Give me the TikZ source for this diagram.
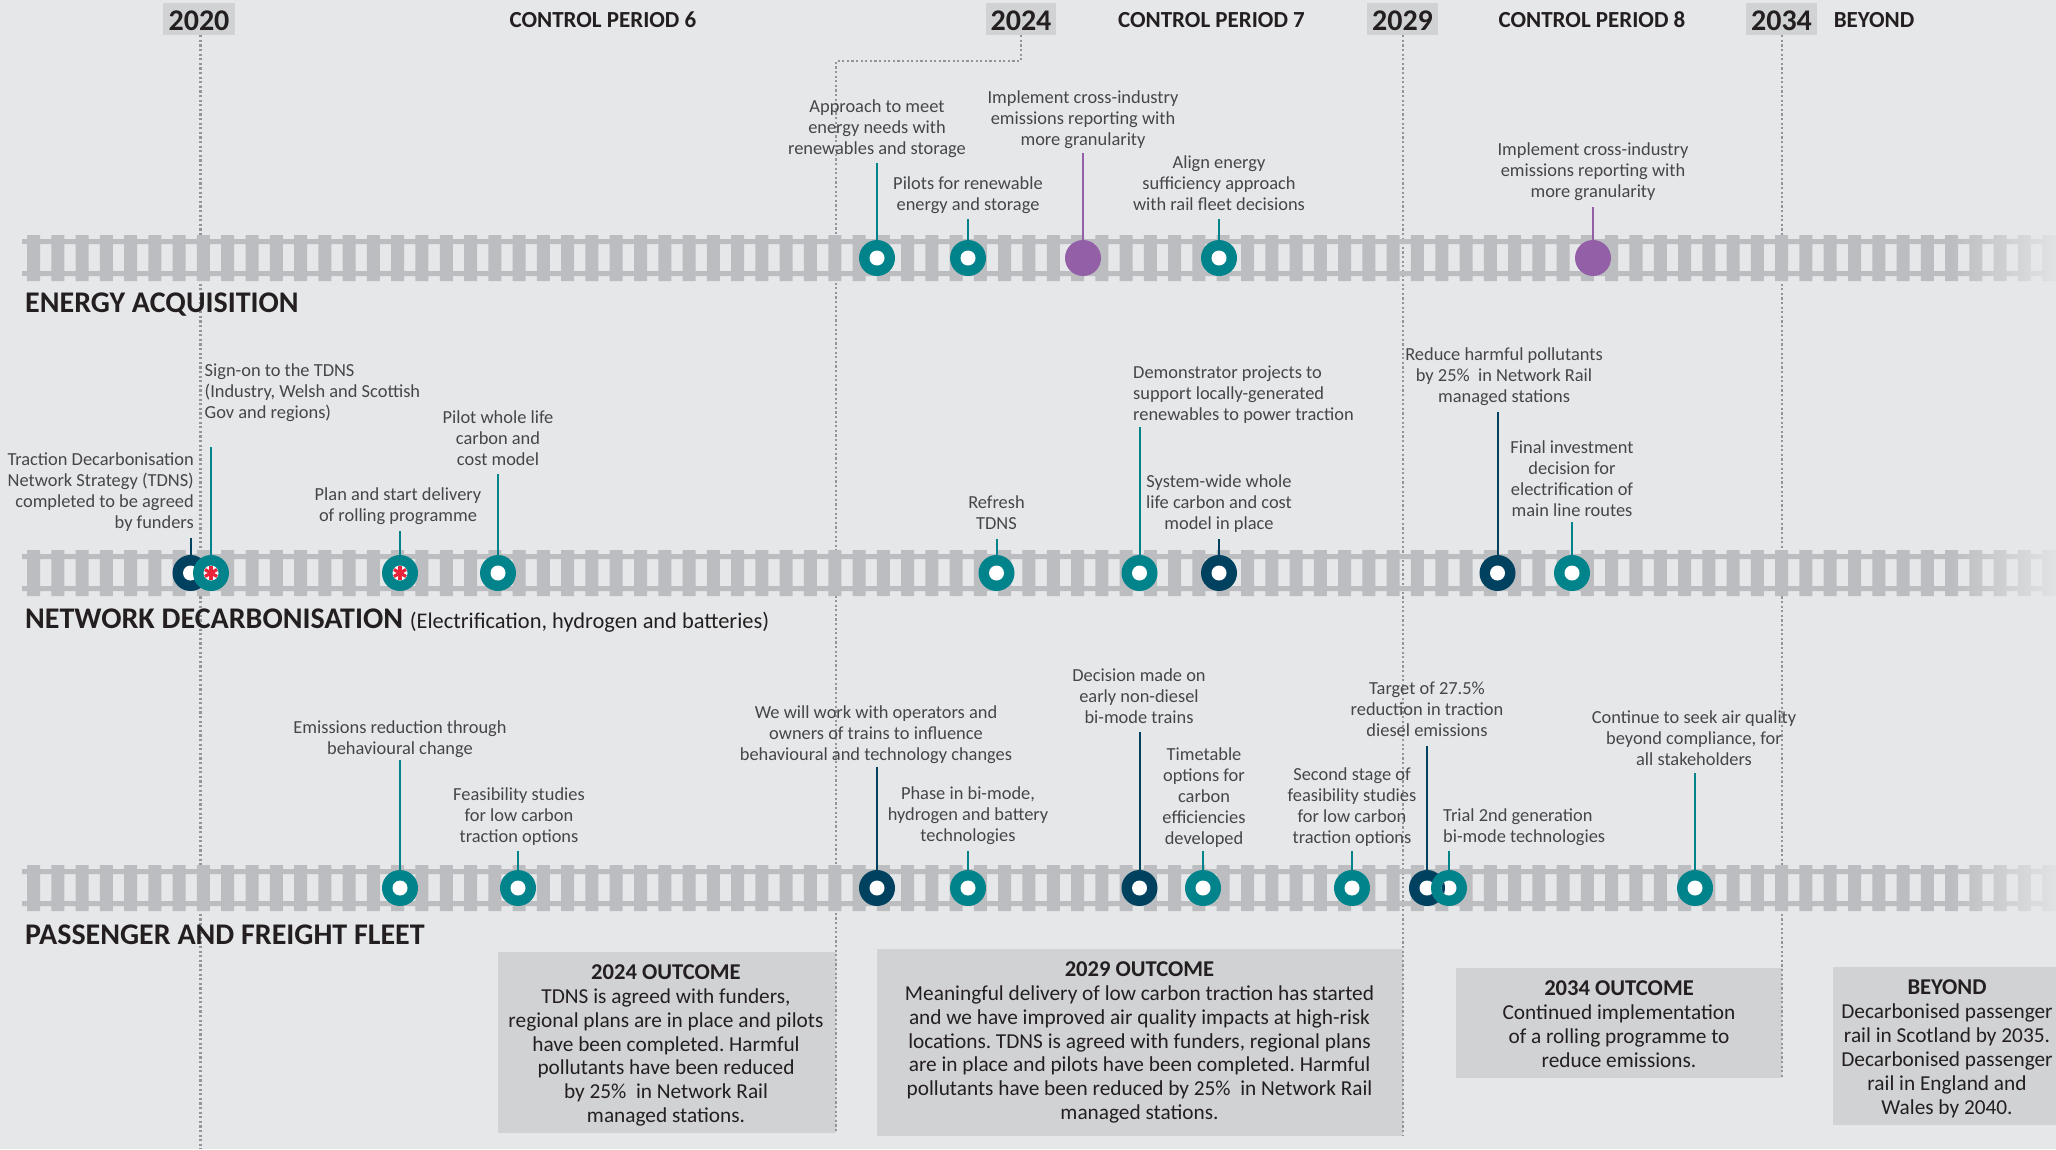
\documentclass[tikz,border=0pt]{standalone}
\usepackage{fontspec}
\setmainfont{Carlito}
\frenchspacing
\definecolor{bgc}{HTML}{E6E7E9}
\definecolor{boxc}{HTML}{D1D2D4}
\definecolor{trackc}{HTML}{BBBDC0}
\definecolor{tealc}{HTML}{00838A}
\definecolor{navyc}{HTML}{00415F}
\definecolor{purplec}{HTML}{9360A8}
\definecolor{redc}{HTML}{E8233A}
\definecolor{labelc}{HTML}{464648}
\definecolor{headc}{HTML}{231F20}
\definecolor{dotc}{HTML}{939598}
\definecolor{fadec}{HTML}{E1E2E3}
\tikzset{
  x=1pt,y=-1pt,
  marker/.style={circle,minimum size=36pt,inner sep=0pt,draw=none},
  hole/.style={circle,minimum size=15pt,inner sep=0pt,fill=white,draw=none},
  stem/.style={line width=2pt},
  dotline/.style={draw=dotc,line width=2.3pt,dash pattern=on 2.2pt off 2.4pt},
  lab/.style={inner sep=0pt,align=center,text=labelc,font=\fontsize{18.4}{21}\selectfont},
  labl/.style={lab,align=left,anchor=west},
  labr/.style={lab,align=right,anchor=east},
  heading/.style={inner sep=0pt,anchor=base west,text=headc,font=\fontsize{30}{32}\selectfont\bfseries},
  yearbox/.style={fill=boxc,inner sep=0pt,minimum width=72pt,minimum height=32pt,text=headc,font=\fontsize{30}{32}\selectfont\bfseries},
  yeartext/.style={inner sep=0pt,text=headc,font=\fontsize{30}{32}\selectfont\bfseries},
  period/.style={inner sep=0pt,text=headc,font=\fontsize{23}{25}\selectfont\bfseries},
  outbox/.style={fill=boxc,draw=none},
  outtext/.style={inner sep=0pt,align=center,text=headc,font=\fontsize{21.3}{23.9}\selectfont},
}
\newcommand{\otitle}[1]{{\fontsize{22.6}{23.9}\selectfont\bfseries #1}}
\newcommand{\track}[1]{%
  \begin{scope}
    \clip (22,#1-19) rectangle (2056,#1-14)
          (22,#1+13) rectangle (2056,#1+18)
          foreach \i in {0,...,83} {({27+24.28*\i},#1-23) rectangle ({40+24.28*\i},#1+23)};
    \fill[trackc] (0,#1-24) rectangle (1950,#1+24);
    \shade[left color=trackc,right color=fadec] (1950,#1-24) rectangle (2056,#1+24);
  \end{scope}}
\newcommand{\ev}[5]{% name, x, y, stem top, colour
  \coordinate (#1t) at (#2,#4);
  \node[marker,fill=#5] (#1) at (#2,#3) {};
  \draw[stem,draw=#5] (#1) -- (#1t);
  \node[hole] (#1h) at (#1.center) {};}
\newcommand{\evp}[4]{% name, x, y, stem top (solid purple)
  \coordinate (#1t) at (#2,#4);
  \node[marker,fill=purplec] (#1) at (#2,#3) {};
  \draw[stem,draw=purplec] (#1) -- (#1t);}
\newcommand{\starmark}[1]{%
  \foreach \a in {30,90,150}{
    \draw[redc,line width=3.2pt] ([shift={(\a:7)}]#1.center) -- ([shift={(\a+180:7)}]#1.center);}}
\begin{document}
\begin{tikzpicture}
\useasboundingbox (0,0) rectangle (2056,1149);
\fill[bgc] (0,0) rectangle (2056,1149);

% outcome boxes
\node[outbox,anchor=north west,minimum width=338pt,minimum height=181pt,inner sep=0pt] (b24) at (498,952) {};
\node[outbox,anchor=north west,minimum width=526pt,minimum height=187pt,inner sep=0pt] (b29) at (877,949) {};
\node[outbox,anchor=north west,minimum width=326pt,minimum height=110pt,inner sep=0pt] (b34) at (1456,968) {};
\node[outbox,anchor=north west,minimum width=223pt,minimum height=158pt,inner sep=0pt] (bby) at (1833,967) {};

% year labels
\node[yearbox,minimum width=72pt] (y20) at (199,19) {};
\node[yearbox,minimum width=70pt] (y24) at (1021,19) {};
\node[yearbox,minimum width=71pt] (y29) at (1402.5,19) {};
\node[yearbox,minimum width=71pt] (y34) at (1781.5,19) {};
\node[yeartext] (t20) at (199,20.5) {2020};
\node[yeartext] (t24y) at (1021,20.5) {2024};
\node[yeartext] (t29y) at (1402.5,20.5) {2029};
\node[yeartext] (t34y) at (1781.5,20.5) {2034};
\node[period] (cp6) at (603,20) {CONTROL PERIOD 6};
\node[period] (cp7) at (1211.5,20) {CONTROL PERIOD 7};
\node[period] (cp8) at (1592,20) {CONTROL PERIOD 8};
\node[period] (cpb) at (1874,20) {BEYOND};

% dotted period lines
\coordinate (e20) at (200.5,1149);
\coordinate (e29) at (1403,1136);
\coordinate (e34) at (1782,1078);
\coordinate (k24) at (1021,61);
\coordinate (k24b) at (836,61);
\coordinate (e24) at (836,1133);
\draw[dotline] (y20.south -| e20) -- (e20);
\draw[dotline] (y29.south -| e29) -- (e29);
\draw[dotline] (y34.south -| e34) -- (e34);
\draw[dotline] (y24.south -| k24) -- (k24) -- (k24b) -- (e24);

% tracks
\track{258}
\track{573}
\track{888}

% headings
\node[heading] (h1) at (25,312) {ENERGY ACQUISITION};
\node[heading] (h2) at (25,628.5) {NETWORK DECARBONISATION {\fontsize{22.4}{24}\selectfont\mdseries (Electrification, hydrogen and batteries)}};
\node[heading] (h3) at (25,944.5) {PASSENGER AND FREIGHT FLEET};

% energy acquisition
\ev{a}{877}{258}{163}{tealc}
\ev{b}{968}{258}{219}{tealc}
\evp{c}{1083}{258}{153}
\ev{d}{1219}{258}{219}{tealc}
\evp{f}{1593}{258}{207}
\node[lab] (la) at (877,128.5) {Approach to meet\\energy needs with\\renewables and storage};
\node[lab] (lb) at (968,195) {Pilots for renewable\\energy and storage};
\node[lab] (lc) at (1083,119.5) {Implement cross-industry\\emissions reporting with\\more granularity};
\node[lab] (ld) at (1219,183) {Align energy\\sufficiency approach\\with rail fleet decisions};
\node[lab] (lf) at (1593,171.5) {Implement cross-industry\\emissions reporting with\\more granularity};

% network decarbonisation
\ev{g}{190.5}{573}{538}{navyc}
\ev{h}{211}{573}{447}{tealc}
\starmark{h}
\ev{i}{400}{573}{531}{tealc}
\starmark{i}
\ev{j}{498}{573}{474}{tealc}
\ev{k}{996.5}{573}{539}{tealc}
\ev{m}{1139.5}{573}{427}{tealc}
\ev{n}{1219}{573}{539}{navyc}
\ev{o}{1497.5}{573}{412}{navyc}
\ev{p}{1572}{573}{522}{tealc}
\node[labr] (lg) at (194,492) {Traction Decarbonisation\\Network Strategy (TDNS)\\completed to be agreed\\by funders};
\node[labl] (lh) at (204.5,392.5) {Sign-on to the TDNS\\(Industry, Welsh and Scottish\\Gov and regions)};
\node[lab] (li) at (398,506.5) {Plan and start delivery\\of rolling programme};
\node[lab] (lj) at (498,438.2) {Pilot whole life\\carbon and\\cost model};
\node[lab] (lk) at (996.5,513) {Refresh\\TDNS};
\node[labl] (lm) at (1133,394.5) {Demonstrator projects to\\support locally-generated\\renewables to power traction};
\node[lab] (ln) at (1219,503.5) {System-wide whole\\life carbon and cost\\model in place};
\node[lab] (lo) at (1504,376.5) {Reduce harmful pollutants\\by 25\%\ \ in Network Rail\\managed stations};
\node[lab] (lp) at (1572,479) {Final investment\\decision for\\electrification of\\main line routes};

% passenger and freight fleet
\ev{q}{400}{888}{760}{tealc}
\ev{r}{518}{888}{851}{tealc}
\ev{s}{877}{888}{767}{navyc}
\ev{u}{968}{888}{851}{tealc}
\ev{v}{1139.5}{888}{732}{navyc}
\ev{w}{1203}{888}{851}{tealc}
\ev{x}{1352}{888}{851}{tealc}
\ev{y}{1427}{888}{746}{navyc}
\ev{z}{1449}{888}{851}{tealc}
\begin{scope}
  \clip (zh.center) circle (7.5pt);
  \fill[navyc] (y.center) circle (18pt);
\end{scope}
\ev{aa}{1695}{888}{773}{tealc}
\node[lab] (lq) at (400,739.2) {Emissions reduction through\\behavioural change};
\node[lab] (lr) at (519,816.3) {Feasibility studies\\for low carbon\\traction options};
\node[lab] (ls) at (876,734.5) {We will work with operators and\\owners of trains to influence\\behavioural and technology changes};
\node[lab] (lu) at (968,815.5) {Phase in bi-mode,\\hydrogen and battery\\technologies};
\node[lab] (lv) at (1139,696.5) {Decision made on\\early non-diesel\\bi-mode trains};
\node[lab] (lw) at (1204,797.5) {Timetable\\options for\\carbon\\efficiencies\\developed};
\node[lab] (lx) at (1352,807.5) {Second stage of\\feasibility studies\\for low carbon\\traction options};
\node[lab] (ly) at (1427,709.2) {Target of 27.5\%\\reduction in traction\\diesel emissions};
\node[labl] (lz) at (1443,827.5) {Trial 2nd generation\\bi-mode technologies};
\node[lab] (laa) at (1694,738.2) {Continue to seek air quality\\beyond compliance, for\\all stakeholders};

% outcome texts
\node[outtext] (t24) at (666,1045.5) {\otitle{2024 OUTCOME}\\TDNS is agreed with funders,\\regional plans are in place and pilots\\have been completed. Harmful\\pollutants have been reduced\\by 25\%\ \ in Network Rail\\managed stations.};
\node[outtext] (t29) at (1139.5,1042.5) {\otitle{2029 OUTCOME}\\Meaningful delivery of low carbon traction has started\\and we have improved air quality impacts at high-risk\\locations. TDNS is agreed with funders, regional plans\\are in place and pilots have been completed. Harmful\\pollutants have been reduced by 25\%\ \ in Network Rail\\managed stations.};
\node[outtext] (t34) at (1619,1024.5) {\otitle{2034 OUTCOME}\\Continued implementation\\of a rolling programme to\\reduce emissions.};
\node[outtext] (tby) at (1947,1049) {\otitle{BEYOND}\\Decarbonised passenger\\rail in Scotland by 2035.\\Decarbonised passenger\\rail in England and\\Wales by 2040.};
\end{tikzpicture}
\end{document}
